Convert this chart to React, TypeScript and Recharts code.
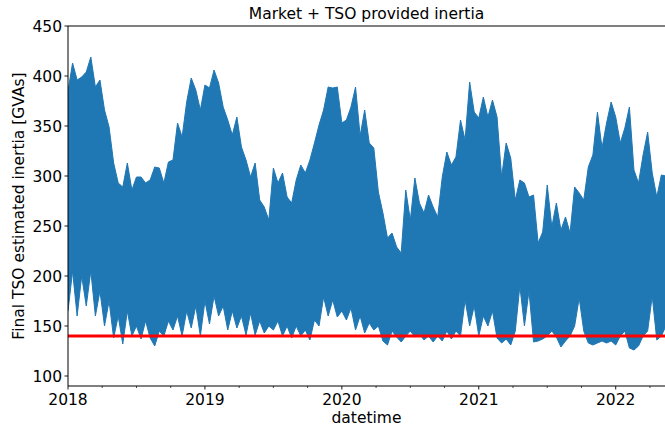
import React from 'react';
import { ComposedChart, Area, XAxis, YAxis, ReferenceLine } from 'recharts';

const upperEnvelope = [
  385, 413, 396, 399, 404, 419, 389, 396, 366, 349,
  313, 293, 289, 313, 286, 299, 299, 293, 296, 309,
  308, 293, 314, 316, 353, 339, 374, 398, 386, 366,
  391, 388, 406, 393, 369, 356, 341, 359, 329, 316,
  299, 313, 276, 269, 256, 308, 293, 303, 279, 273,
  296, 311, 303, 316, 333, 351, 366, 389, 388, 389,
  353, 356, 369, 389, 340, 366, 333, 328, 284, 263,
  238, 243, 229, 223, 286, 256, 298, 273, 263, 281,
  269, 259, 299, 324, 311, 319, 356, 336, 394, 364,
  358, 379, 359, 376, 359, 299, 333, 318, 276, 296,
  293, 279, 281, 233, 244, 291, 249, 273, 246, 259,
  243, 289, 283, 276, 309, 321, 364, 328, 353, 374,
  359, 333, 348, 369, 306, 293, 321, 344, 303, 279,
  301, 300,
];

const lowerEnvelope = [
  165, 205, 160, 200, 170, 205, 160, 185, 150, 175,
  138, 160, 132, 165, 140, 150, 137, 155, 138, 130,
  145, 140, 155, 146, 160, 140, 165, 148, 170, 140,
  175, 152, 180, 160, 170, 146, 165, 148, 160, 141,
  163, 141, 155, 143, 150, 146, 155, 140, 150, 138,
  150, 140, 146, 136, 156, 150, 179, 160, 176, 159,
  165, 156, 168, 146, 160, 143, 153, 146, 150, 135,
  131, 145, 139, 134, 140, 145, 139, 142, 136, 140,
  134, 140, 135, 145, 137, 145, 140, 176, 150, 170,
  140, 160, 150, 165, 138, 133, 137, 131, 145, 190,
  150, 185, 134, 135, 137, 140, 145, 139, 129, 135,
  140, 150, 178, 145, 133, 131, 133, 135, 133, 135,
  131, 140, 145, 128, 126, 130, 140, 145, 180, 136,
  140, 150,
];

const tsoThreshold = 140;
const yTicks = [100, 150, 200, 250, 300, 350, 400, 450];
const xTicks = [
  2018, 2018.25, 2018.5, 2018.75, 2019, 2019.25, 2019.5, 2019.75,
  2020, 2020.25, 2020.5, 2020.75, 2021, 2021.25, 2021.5, 2021.75,
  2022, 2022.25,
];

const data = upperEnvelope.map((hi, i) => ({
  t: 2018 + i / 30,
  band: [lowerEnvelope[i], hi],
}));

const FONT = 'DejaVu Sans, sans-serif';
const BLUE = '#1f77b4';

const XTick = ({ x, y, payload }: any) => {
  const major = Number.isInteger(payload.value);
  return (
    <g>
      <line x1={x} x2={x} y1={y} y2={y + (major ? 3.5 : 2)} stroke="#000" strokeWidth={major ? 0.9 : 0.7} />
      {major && (
        <text x={x} y={y + 19} textAnchor="middle" fontSize={15.5} fontFamily={FONT} fill="#000">
          {payload.value}
        </text>
      )}
    </g>
  );
};

const YTick = ({ x, y, payload }: any) => (
  <g>
    <line x1={x - 3.5} x2={x} y1={y} y2={y} stroke="#000" strokeWidth={0.9} />
    <text x={x - 6} y={y} dy="0.36em" textAnchor="end" fontSize={15.5} fontFamily={FONT} fill="#000">
      {payload.value}
    </text>
  </g>
);

export default function App() {
  return (
    <div style={{ position: 'absolute', left: 0, top: 0, width: 665, height: 428, background: '#fff', fontFamily: FONT }}>
      <ComposedChart width={665} height={428} data={data} margin={{ top: 26, right: 0, bottom: 0, left: 0 }}>
        <XAxis
          dataKey="t"
          type="number"
          domain={[2018, 2022.36]}
          ticks={xTicks}
          allowDataOverflow
          height={42}
          tickSize={0}
          tickMargin={0}
          tickLine={false}
          axisLine={{ stroke: '#000', strokeWidth: 1 }}
          tick={<XTick />}
          interval={0}
        />
        <YAxis
          type="number"
          domain={[90, 450]}
          ticks={yTicks}
          allowDataOverflow
          width={68}
          tickSize={0}
          tickMargin={0}
          tickLine={false}
          axisLine={{ stroke: '#000', strokeWidth: 1 }}
          tick={<YTick />}
          interval={0}
        />
        <ReferenceLine y={450} stroke="#000" strokeWidth={1} />
        <Area
          type="linear"
          dataKey="band"
          stroke={BLUE}
          strokeWidth={1}
          fill={BLUE}
          fillOpacity={1}
          isAnimationActive={false}
          dot={false}
          activeDot={false}
        />
        <ReferenceLine y={tsoThreshold} stroke="#ff0000" strokeWidth={3} />
      </ComposedChart>
      <div style={{ position: 'absolute', left: 68, width: 597, top: 5, textAlign: 'center', fontSize: 15.5, lineHeight: '18px', color: '#000' }}>
        Market + TSO provided inertia
      </div>
      <div style={{ position: 'absolute', left: 68, width: 597, top: 409, textAlign: 'center', fontSize: 15.5, lineHeight: '18px', color: '#000' }}>
        datetime
      </div>
      <div
        style={{
          position: 'absolute',
          left: 19,
          top: 206,
          transform: 'translate(-50%, -50%) rotate(-90deg)',
          whiteSpace: 'nowrap',
          fontSize: 15.5,
          lineHeight: '18px',
          color: '#000',
        }}
      >
        Final TSO estimated inertia [GVAs]
      </div>
    </div>
  );
}
